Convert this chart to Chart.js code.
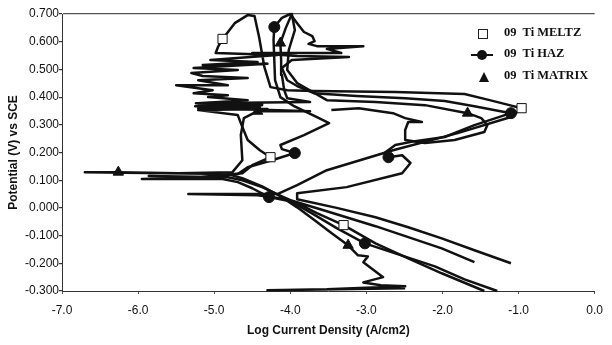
<!DOCTYPE html>
<html lang="en">
<head>
<meta charset="UTF-8">
<title>09 Ti - Potential vs Log Current Density</title>
<script src="https://cdn.jsdelivr.net/npm/chart.js@4"></script>
<style>
  html, body { margin: 0; padding: 0; background: #fff; }
  .wrap { position: relative; width: 612px; height: 345px; }
  .leg-txt { position: absolute; left: 504px; height: 18px; line-height: 18px; white-space: pre;
             font: bold 12.5px "Liberation Serif", "DejaVu Serif", serif; color: #111; }
  .sq { position: absolute; left: 478px; top: 29px; width: 8px; height: 8px; border: 1px solid #222; background: #fff; }
  .ln { position: absolute; left: 471px; top: 54px; width: 22px; height: 2px; background: #111; }
  .dot { position: absolute; left: 477px; top: 50px; width: 10px; height: 10px; border-radius: 50%; background: #111; }
  .tri { position: absolute; left: 479px; top: 72px; width: 0; height: 0;
         border-left: 5.5px solid transparent; border-right: 5.5px solid transparent; border-bottom: 10px solid #111; }
</style>
</head>
<body>
<div class="wrap">
  <canvas id="grafico" width="612" height="345"></canvas>
  <div class="sq"></div>
  <div class="ln"></div><div class="dot"></div>
  <div class="tri"></div>
  <div class="leg-txt" id="leg0" style="top:25px"></div>
  <div class="leg-txt" id="leg1" style="top:46px"></div>
  <div class="leg-txt" id="leg2" style="top:68px"></div>
</div>

<script>
// eixos
const xTickValues = [-7, -6, -5, -4, -3, -2, -1, 0];
const yTickValues = [-0.3, -0.2, -0.1, 0, 0.1, 0.2, 0.3, 0.4, 0.5, 0.6, 0.7];
const seriesNames = ['09  Ti MELTZ', '09  Ti HAZ', '09  Ti MATRIX'];

// 09 Ti MELTZ (log i, E)
const meltzLogI = [-1.45, -2.01, -2.45, -2.88, -3.30, -3.65, -3.91, -4.11,
  -4.37, -4.63, -4.82, -5.86, -5.21, -4.63, -4.50, -4.26,
  -4.40, -4.56, -4.64, -4.69, -5.21, -4.30, -5.18, -4.40, -5.25, -4.37,
  -5.21, -4.56, -5.08, -4.82, -5.27, -5.02, -5.50, -4.82,
  -5.21, -4.56, -5.15, -5.30, -4.69, -5.27, -4.30, -5.15,
  -4.43, -5.05, -4.17, -4.98, -4.95, -4.89, -4.73, -4.56,
  -4.47, -4.41, -4.34, -4.26, -4.04, -3.69, -2.62, -1.71,
  -1.38, -1.12, -0.96, -1.10, -1.80, -2.65, -3.52, -3.91,
  -4.17, -5.34, -4.43, -4.04, -3.52, -2.88, -2.01, -1.58];
const meltzE = [-0.300, -0.236, -0.182, -0.128, -0.062, -0.019, 0.017, 0.042,
  0.075, 0.100, 0.111, 0.115, 0.111, 0.125, 0.154, 0.183,
  0.208, 0.245, 0.299, 0.335, 0.353, 0.357, 0.360, 0.363, 0.367, 0.375,
  0.378, 0.389, 0.400, 0.407, 0.414, 0.425, 0.443, 0.443,
  0.461, 0.469, 0.476, 0.487, 0.498, 0.505, 0.520, 0.516,
  0.527, 0.534, 0.552, 0.559, 0.581, 0.610, 0.667, 0.696,
  0.693, 0.617, 0.508, 0.436, 0.425, 0.422, 0.418, 0.411,
  0.389, 0.371, 0.360, 0.328, 0.270, 0.208, 0.136, 0.082,
  0.050, 0.050, 0.046, 0.031, -0.012, -0.066, -0.146, -0.196];
const meltzMarkLogI = [-4.89, -4.26, -0.96, -3.30];
const meltzMarkE = [0.610, 0.183, 0.360, -0.062];

// 09 Ti HAZ
const hazLogI = [-1.28, -1.71, -2.10, -2.62, -3.02, -3.39, -3.72, -4.00,
  -4.28, -4.50, -4.69, -4.89, -5.95, -5.08, -4.69, -4.56,
  -4.24, -3.94, -4.11, -4.13, -3.82, -3.49, -3.65, -3.95,
  -4.13, -4.20, -4.21, -4.22, -4.21, -4.11, -4.00, -3.91,
  -3.82, -3.71, -3.68, -3.76, -3.65, -3.04, -3.52, -3.33,
  -4.50, -3.91, -3.23, -3.98, -4.11, -4.04, -3.91, -3.69,
  -3.13, -2.49, -1.97, -1.58, -1.10, -1.58, -1.97, -2.36,
  -2.62, -2.75, -2.71, -2.53, -2.42, -2.53, -3.26, -3.91,
  -3.91, -3.39, -2.88, -2.45, -2.01, -1.58, -1.10];
const hazE = [-0.300, -0.258, -0.211, -0.164, -0.128, -0.073, -0.019, 0.024,
  0.039, 0.071, 0.093, 0.104, 0.104, 0.111, 0.122, 0.147,
  0.172, 0.198, 0.212, 0.227, 0.263, 0.306, 0.328, 0.367,
  0.400, 0.461, 0.534, 0.606, 0.653, 0.686, 0.700, 0.667,
  0.635, 0.620, 0.602, 0.592, 0.584, 0.584, 0.574, 0.559,
  0.559, 0.548, 0.545, 0.534, 0.505, 0.461, 0.440, 0.414,
  0.404, 0.396, 0.386, 0.367, 0.342, 0.299, 0.256, 0.241,
  0.227, 0.201, 0.183, 0.190, 0.162, 0.125, 0.075, 0.053,
  0.031, 0.000, -0.034, -0.070, -0.110, -0.153, -0.200];
const hazMarkLogI = [-4.21, -3.94, -1.10, -2.71, -3.02, -4.28];
const hazMarkE = [0.653, 0.198, 0.342, 0.183, -0.128, 0.039];

// 09 Ti MATRIX
const matrixLogI = [-2.49, -4.30, -3.52, -2.49, -2.81, -3.04, -2.78, -3.04,
  -2.98, -3.11, -3.24, -3.46, -3.68, -3.91, -4.13, -4.37,
  -4.63, -4.82, -6.70, -6.26, -5.47, -4.76, -4.63, -4.65,
  -4.61, -4.43, -3.74, -4.69, -5.21, -4.37, -5.24, -3.74,
  -4.04, -4.08, -4.11, -4.12, -4.13, -4.06, -3.98, -3.94,
  -4.02, -4.04, -3.91, -3.52, -2.88, -2.23, -1.67, -1.49,
  -1.41, -1.45, -1.84, -2.23, -2.49, -2.49, -2.45, -2.27,
  -2.49, -2.65, -3.10, -3.46];
const matrixE = [-0.290, -0.297, -0.294, -0.283, -0.279, -0.269, -0.250, -0.196,
  -0.175, -0.171, -0.135, -0.091, -0.045, 0.002, 0.042, 0.078,
  0.107, 0.122, 0.129, 0.129, 0.125, 0.129, 0.172, 0.263,
  0.324, 0.349, 0.349, 0.357, 0.360, 0.371, 0.378, 0.382,
  0.396, 0.425, 0.480, 0.534, 0.595, 0.649, 0.700, 0.642,
  0.570, 0.498, 0.451, 0.389, 0.382, 0.371, 0.342, 0.324,
  0.299, 0.274, 0.245, 0.234, 0.245, 0.281, 0.310, 0.310,
  0.324, 0.342, 0.360, 0.353];
const matrixMarkLogI = [-6.26, -4.43, -4.13, -1.67, -3.24];
const matrixMarkE = [0.129, 0.349, 0.595, 0.342, -0.135];

function pontos(xs, ys) {
  return xs.map((x, i) => ({ x: x, y: ys[i] }));
}

function linha(xs, ys) {
  return {
    data: pontos(xs, ys),
    showLine: true,
    borderColor: '#111',
    borderWidth: 2.5,
    borderJoinStyle: 'round',
    pointRadius: 0,
    tension: 0,
    clip: 4,
    order: 2
  };
}

function marcas(xs, ys, estilo, raio, fundo) {
  return {
    data: pontos(xs, ys),
    showLine: false,
    pointStyle: estilo,
    pointRadius: raio,
    pointBackgroundColor: fundo,
    pointBorderColor: '#111',
    pointBorderWidth: 1,
    clip: 8,
    order: 1
  };
}

seriesNames.forEach((n, i) => { document.getElementById('leg' + i).textContent = n; });

const fonte = 'Arial, "Liberation Sans", sans-serif';

new Chart(document.getElementById('grafico').getContext('2d'), {
  type: 'scatter',
  data: {
    datasets: [
      linha(meltzLogI, meltzE),
      linha(hazLogI, hazE),
      linha(matrixLogI, matrixE),
      marcas(meltzMarkLogI, meltzMarkE, 'rect', 6.5, '#fff'),
      marcas(hazMarkLogI, hazMarkE, 'circle', 5.5, '#111'),
      marcas(matrixMarkLogI, matrixMarkE, 'triangle', 6, '#111')
    ]
  },
  options: {
    responsive: false,
    animation: false,
    devicePixelRatio: 1,
    layout: { padding: { left: 0, right: 10, top: 14, bottom: 0 } },
    plugins: { legend: { display: false }, tooltip: { enabled: false } },
    scales: {
      x: {
        type: 'linear',
        min: -7,
        max: 0,
        afterBuildTicks: s => { s.ticks = xTickValues.map(v => ({ value: v })); },
        afterFit: s => { s.height = 54; },
        ticks: {
          autoSkip: false,
          maxRotation: 0,
          padding: 9,
          color: '#111',
          font: { family: fonte, size: 12 },
          callback: v => Number(v).toFixed(1)
        },
        grid: { drawOnChartArea: false, tickLength: 3, color: '#555' },
        border: { color: '#333', width: 1 },
        title: {
          display: true,
          text: 'Log Current Density (A/cm2)',
          color: '#111',
          font: { family: fonte, size: 12, weight: 'bold' },
          padding: { top: 4, bottom: 7 }
        }
      },
      y: {
        type: 'linear',
        min: -0.3,
        max: 0.7,
        afterBuildTicks: s => { s.ticks = yTickValues.map(v => ({ value: v })); },
        afterFit: s => { s.width = 62; },
        ticks: {
          autoSkip: false,
          padding: 0,
          color: '#111',
          font: { family: fonte, size: 12 },
          callback: v => (Math.round(v * 1000) / 1000).toFixed(3)
        },
        grid: {
          drawOnChartArea: true,
          tickLength: 3,
          lineWidth: 1.2,
          tickColor: '#333',
          color: ctx => (ctx.tick && Math.abs(ctx.tick.value - 0.7) < 1e-9) ? '#555' : 'rgba(0,0,0,0)'
        },
        border: { color: '#333', width: 1 },
        title: {
          display: true,
          text: 'Potential (V) vs SCE',
          color: '#111',
          font: { family: fonte, size: 12, weight: 'bold' },
          padding: { top: 6, bottom: 4 }
        }
      }
    }
  }
});
</script>
</body>
</html>
